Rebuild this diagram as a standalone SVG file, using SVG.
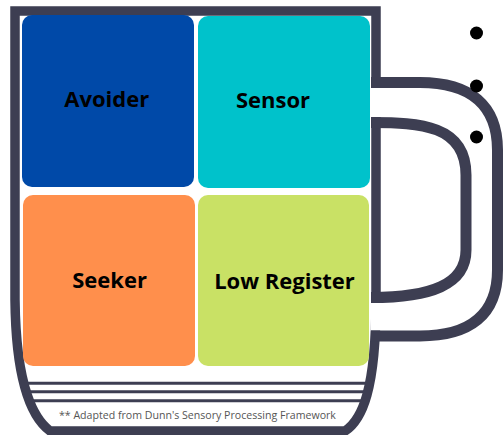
<svg xmlns="http://www.w3.org/2000/svg" width="503" height="435" viewBox="0 0 503 435">
  <style>
    .ink { fill: none; stroke: #3d3e52; stroke-linejoin: round; }
    .body { stroke-linejoin: miter; }
    .box-label { font-family: "Open Sans", "Liberation Sans", sans-serif; font-weight: 700; font-size: 22px; fill: #000; text-anchor: middle; }
    .note { font-family: "Open Sans", "Liberation Sans", sans-serif; font-size: 10.6px; fill: #555555; }
    .rule { stroke: #3d3e52; stroke-width: 3; }
  </style>
  <defs>
    <clipPath id="mugInside">
      <path d="M 15 11 L 376 11 L 376 300 C 376 390 362 420 345 431 L 50 431 C 35 420 16 390 15 300 Z"/>
    </clipPath>
  </defs>
  <rect width="503" height="435" fill="#ffffff"/>

  <g id="mug">
    <g clip-path="url(#mugInside)">
      <line class="rule" x1="0" y1="383.3" x2="400" y2="383.3"/>
      <line class="rule" x1="0" y1="391.7" x2="400" y2="391.7"/>
      <line class="rule" x1="0" y1="400.7" x2="400" y2="400.7"/>
    </g>
    <path class="ink body" stroke-width="9.5" d="M 15 11 L 376 11 L 376 300 C 376 390 362 420 345 431 L 50 431 C 35 420 16 390 15 300 Z"/>
    <rect x="370.5" y="88" width="12" height="29" fill="#ffffff"/>
    <rect x="370.5" y="303" width="12" height="27.5" fill="#ffffff"/>
    <path class="ink" stroke-width="11" d="M 371 82.5 L 420 82.5 C 470 82.5 497.5 105 497.5 150 L 497.5 270 C 497.5 315 470 336 420 336 L 371 336"/>
    <path class="ink" stroke-width="11" d="M 371 122.5 C 420 122.5 466 125 466 175 L 466 250 C 466 285 430 297.5 371 297.5"/>
  </g>

  <g id="avoider">
    <rect x="22" y="15" width="172" height="172" rx="10" fill="#0049a8"/>
    <text class="box-label" x="106.7" y="107">Avoider</text>
  </g>
  <g id="sensor">
    <rect x="198" y="16" width="172" height="172" rx="10" fill="#00c2cb"/>
    <text class="box-label" x="273" y="108">Sensor</text>
  </g>
  <g id="seeker">
    <rect x="23" y="195" width="172" height="171" rx="10" fill="#ff8f4c"/>
    <text class="box-label" x="109.5" y="288.3">Seeker</text>
  </g>
  <g id="low-register">
    <rect x="198" y="195" width="171" height="171" rx="10" fill="#c9e165"/>
    <text class="box-label" x="284.5" y="289.3">Low Register</text>
  </g>

  <g id="footnote">
    <text class="note" x="59" y="418.5">** Adapted from Dunn's Sensory Processing Framework</text>
  </g>

  <g id="bullets" fill="#000000">
    <circle cx="476.5" cy="33" r="6.5"/>
    <circle cx="476.5" cy="86" r="6.5"/>
    <circle cx="476.5" cy="137" r="6.5"/>
  </g>
</svg>
